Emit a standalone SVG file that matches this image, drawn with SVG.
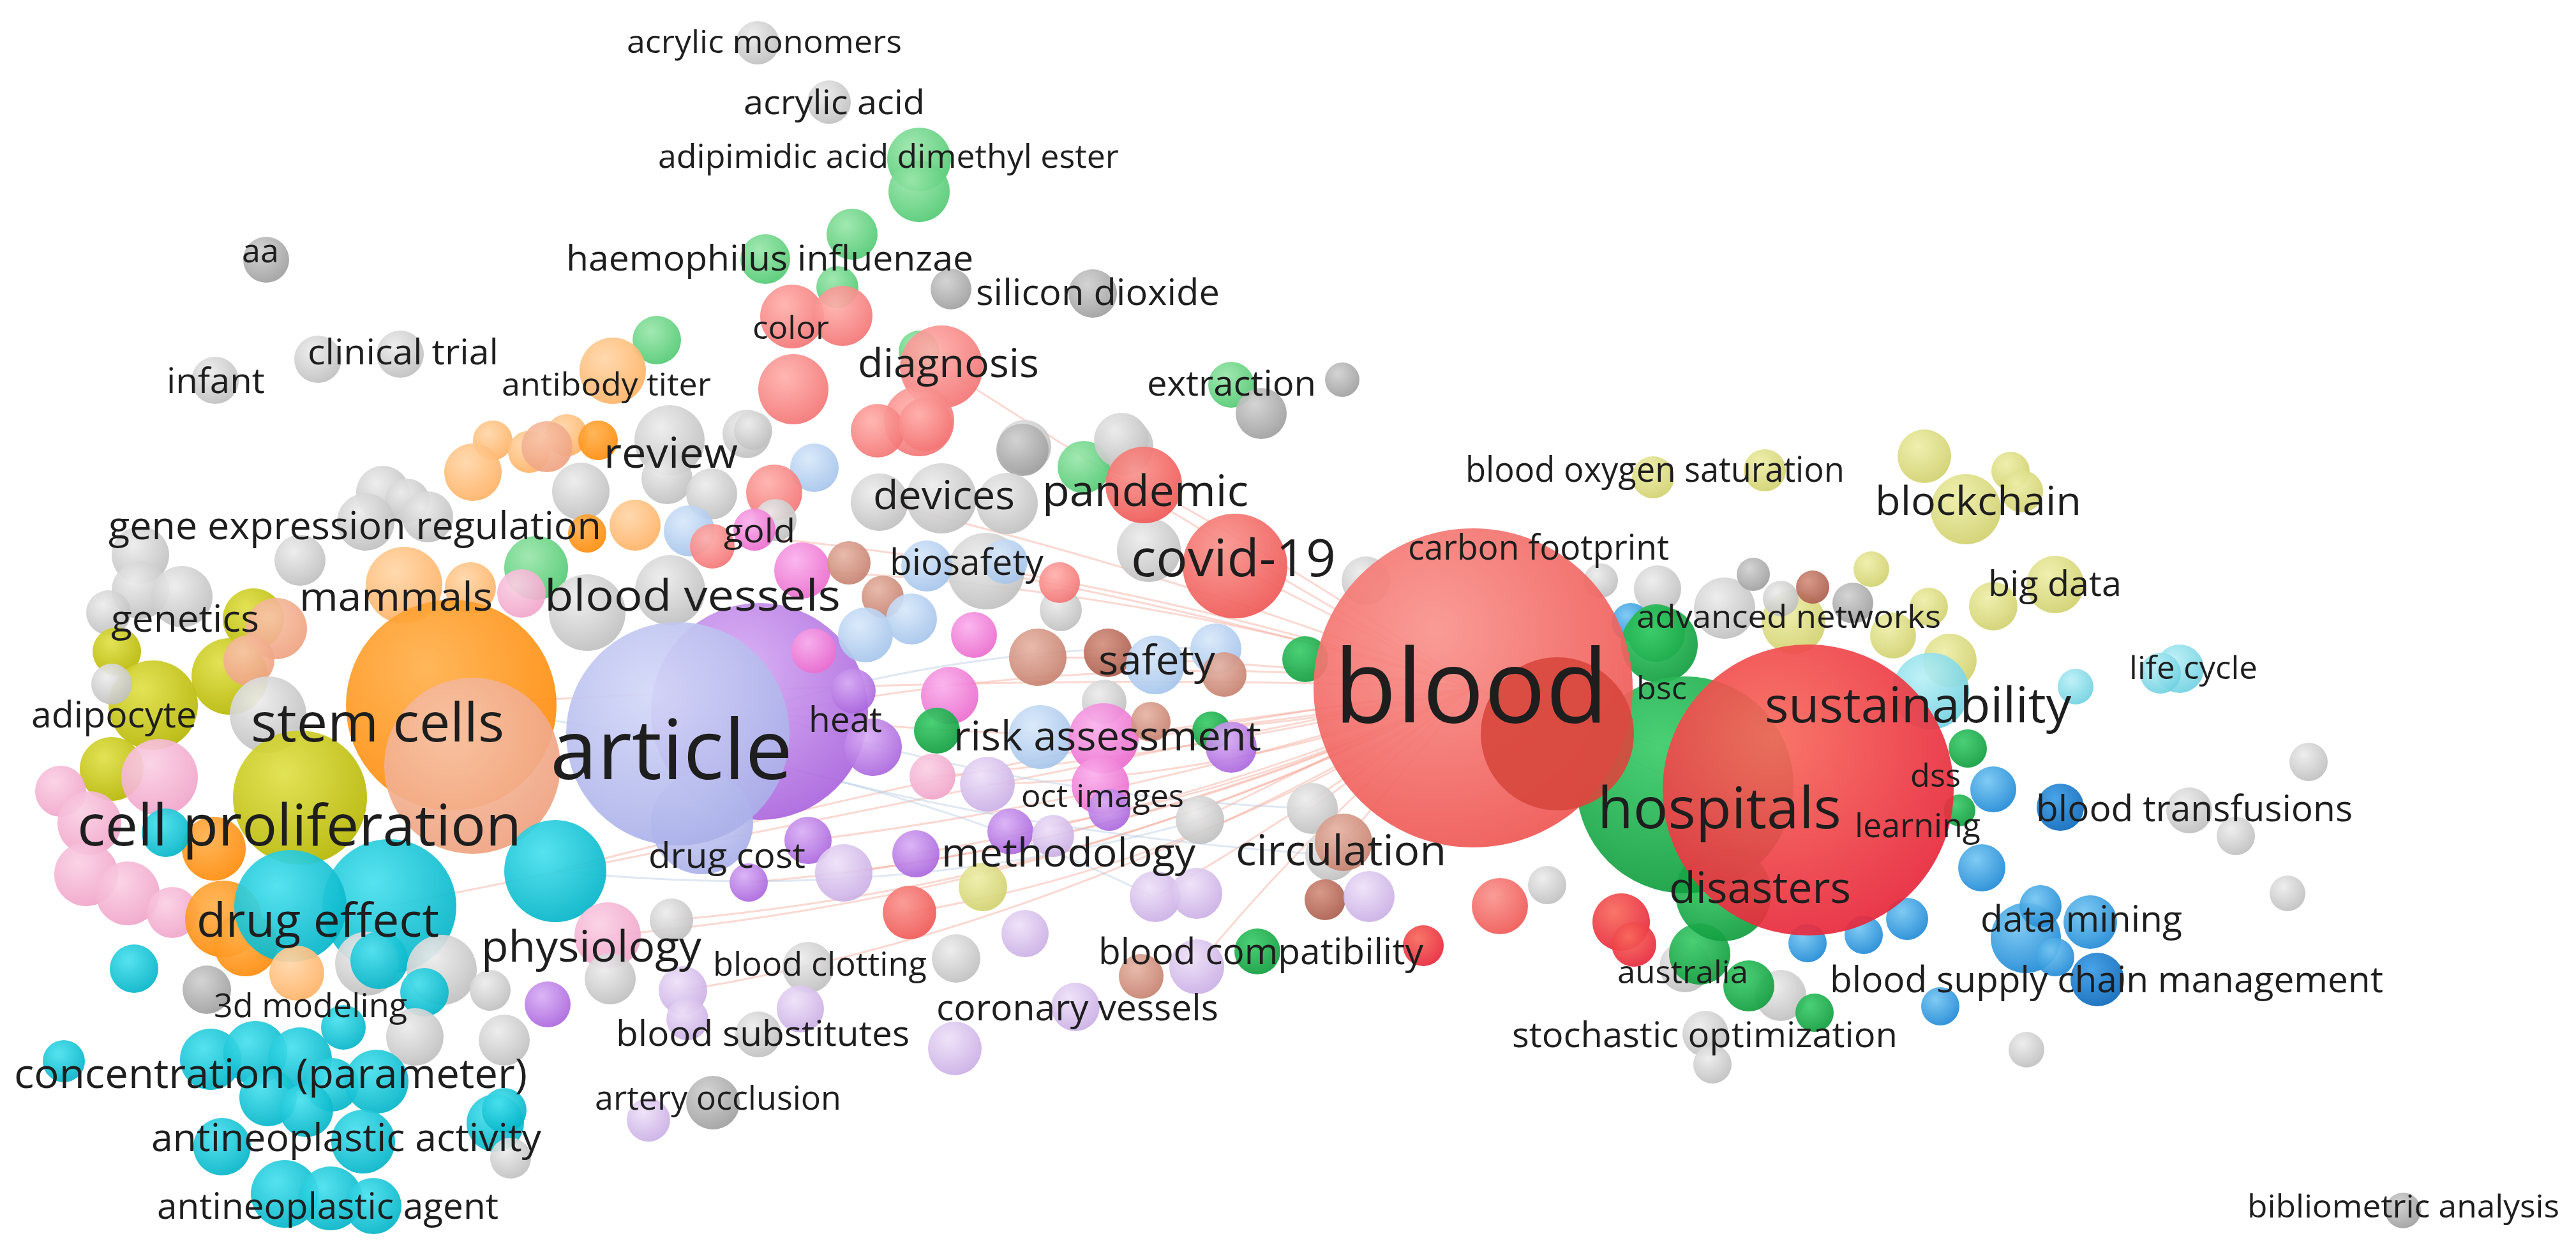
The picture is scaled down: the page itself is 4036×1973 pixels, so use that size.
<svg xmlns="http://www.w3.org/2000/svg" width="4036" height="1973" viewBox="0 0 4036 1973">
<defs>
<radialGradient id="gR" cx="38%" cy="32%" r="75%"><stop offset="0" stop-color="#f9948e"/><stop offset="1" stop-color="#ee5552"/></radialGradient>
<radialGradient id="gR2" cx="38%" cy="32%" r="75%"><stop offset="0" stop-color="#f86a5c"/><stop offset="1" stop-color="#e6243a"/></radialGradient>
<radialGradient id="gRS" cx="38%" cy="32%" r="75%"><stop offset="0" stop-color="#ffb0ac"/><stop offset="1" stop-color="#f27272"/></radialGradient>
<radialGradient id="gG" cx="38%" cy="32%" r="75%"><stop offset="0" stop-color="#3ccc6a"/><stop offset="1" stop-color="#0e9a3c"/></radialGradient>
<radialGradient id="gLG" cx="38%" cy="32%" r="75%"><stop offset="0" stop-color="#9ae6aa"/><stop offset="1" stop-color="#4ec870"/></radialGradient>
<radialGradient id="gB" cx="38%" cy="32%" r="75%"><stop offset="0" stop-color="#74c6f2"/><stop offset="1" stop-color="#1b86d4"/></radialGradient>
<radialGradient id="gDB" cx="38%" cy="32%" r="75%"><stop offset="0" stop-color="#3a9ce6"/><stop offset="1" stop-color="#0a66b8"/></radialGradient>
<radialGradient id="gO" cx="38%" cy="32%" r="75%"><stop offset="0" stop-color="#eeeea8"/><stop offset="1" stop-color="#cfcf6c"/></radialGradient>
<radialGradient id="gY" cx="38%" cy="32%" r="75%"><stop offset="0" stop-color="#e0e048"/><stop offset="1" stop-color="#b4b400"/></radialGradient>
<radialGradient id="gP" cx="38%" cy="32%" r="75%"><stop offset="0" stop-color="#d8aef4"/><stop offset="1" stop-color="#a862dc"/></radialGradient>
<radialGradient id="gLAV" cx="38%" cy="32%" r="75%"><stop offset="0" stop-color="#d4d8f8"/><stop offset="1" stop-color="#a8aee8"/></radialGradient>
<radialGradient id="gLL" cx="38%" cy="32%" r="75%"><stop offset="0" stop-color="#eee0f8"/><stop offset="1" stop-color="#c8ace4"/></radialGradient>
<radialGradient id="gT" cx="38%" cy="32%" r="75%"><stop offset="0" stop-color="#48e0ee"/><stop offset="1" stop-color="#00b2c6"/></radialGradient>
<radialGradient id="gLC" cx="38%" cy="32%" r="75%"><stop offset="0" stop-color="#baf0f6"/><stop offset="1" stop-color="#6ccfe0"/></radialGradient>
<radialGradient id="gOR" cx="38%" cy="32%" r="75%"><stop offset="0" stop-color="#ffb04c"/><stop offset="1" stop-color="#ff8a08"/></radialGradient>
<radialGradient id="gPE" cx="38%" cy="32%" r="75%"><stop offset="0" stop-color="#ffd6a8"/><stop offset="1" stop-color="#ffb062"/></radialGradient>
<radialGradient id="gSA" cx="38%" cy="32%" r="75%"><stop offset="0" stop-color="#f8c4a8"/><stop offset="1" stop-color="#eea07e"/></radialGradient>
<radialGradient id="gBR" cx="38%" cy="32%" r="75%"><stop offset="0" stop-color="#e6b4a4"/><stop offset="1" stop-color="#c47e6c"/></radialGradient>
<radialGradient id="gDBR" cx="38%" cy="32%" r="75%"><stop offset="0" stop-color="#d4907e"/><stop offset="1" stop-color="#a85a4a"/></radialGradient>
<radialGradient id="gPK" cx="38%" cy="32%" r="75%"><stop offset="0" stop-color="#fab0ec"/><stop offset="1" stop-color="#ea68cc"/></radialGradient>
<radialGradient id="gLP" cx="38%" cy="32%" r="75%"><stop offset="0" stop-color="#fad0e4"/><stop offset="1" stop-color="#f0a2c8"/></radialGradient>
<radialGradient id="gLB" cx="38%" cy="32%" r="75%"><stop offset="0" stop-color="#d8e8fa"/><stop offset="1" stop-color="#a2c2ea"/></radialGradient>
<radialGradient id="gGY" cx="38%" cy="32%" r="75%"><stop offset="0" stop-color="#ececec"/><stop offset="1" stop-color="#bdbdbd"/></radialGradient>
<radialGradient id="gDG" cx="38%" cy="32%" r="75%"><stop offset="0" stop-color="#d0d0d0"/><stop offset="1" stop-color="#9c9c9c"/></radialGradient>
<style>
circle{fill-opacity:.92}
.r{fill:url(#gR)}.r2{fill:url(#gR2)}.rs{fill:url(#gRS)}.g{fill:url(#gG)}.lg{fill:url(#gLG)}
.b{fill:url(#gB)}.db{fill:url(#gDB)}.o{fill:url(#gO)}.y{fill:url(#gY)}.p{fill:url(#gP)}
.lav{fill:url(#gLAV)}.ll{fill:url(#gLL)}.t{fill:url(#gT)}.lc{fill:url(#gLC)}.or{fill:url(#gOR)}
.pe{fill:url(#gPE)}.sa{fill:url(#gSA)}.br{fill:url(#gBR)}.dbr{fill:url(#gDBR)}.pk{fill:url(#gPK)}
.lp{fill:url(#gLP)}.lb{fill:url(#gLB)}.gy{fill:url(#gGY)}.dg{fill:url(#gDG)}
.big{fill-opacity:.93}
.e{fill:none;stroke:#f4a898;stroke-opacity:.45;stroke-width:3}
.e2{fill:none;stroke:#b8cce4;stroke-opacity:.45;stroke-width:3}
text{font-family:"Open Sans","Liberation Sans",sans-serif;fill:#1e1e1e}
</style>
</defs>
<rect width="4036" height="1973" fill="#ffffff"/>

<g id="connectors">
<path class="e" d="M2308 1078 Q1700 1000 1062 1150"/>
<path class="e" d="M2308 1078 Q1600 1050 707 1105"/>
<path class="e" d="M2308 1078 Q1700 1150 870 1365"/>
<path class="e" d="M2308 1078 Q1800 1200 1190 1115"/>
<path class="e" d="M2308 1078 Q1900 850 1475 575"/>
<path class="e" d="M2308 1078 Q2050 900 1792 760"/>
<path class="e" d="M2308 1078 L1935 887"/>
<path class="e" d="M2308 1078 Q1850 900 1378 787"/>
<path class="e" d="M2308 1078 Q1900 960 1545 895"/>
<path class="e" d="M2308 1078 Q1950 1030 1626 1030"/>
<path class="e" d="M2308 1078 Q2000 1120 1729 1157"/>
<path class="e" d="M2308 1078 Q1950 1150 1630 1155"/>
<path class="e" d="M2308 1078 Q1900 1260 1435 1338"/>
<path class="e" d="M2308 1078 Q1950 1250 1583 1303"/>
<path class="e" d="M2308 1078 Q1850 1300 1322 1368"/>
<path class="e" d="M2308 1078 Q1800 1330 1173 1383"/>
<path class="e" d="M2308 1078 Q1750 1380 1052 1442"/>
<path class="e" d="M2308 1078 L2105 1320"/>
<path class="e" d="M2308 1078 Q2050 1300 1875 1515"/>
<path class="e" d="M2308 1078 Q2000 1300 1810 1405"/>
<path class="e" d="M2308 1078 Q1900 1350 1425 1430"/>
<path class="e" d="M2308 1078 Q1800 1250 1266 1317"/>
<path class="e" d="M2308 1078 Q1800 920 1257 894"/>
<path class="e" d="M2308 1078 Q1700 880 1080 832"/>
<path class="e" d="M2308 1078 L2056 1267"/>
<path class="e" d="M2308 1078 Q2050 1200 1880 1285"/>
<path class="e" d="M2308 1078 Q1900 1180 1461 1217"/>
<path class="e" d="M2308 1078 Q1950 1220 1547 1229"/>
<path class="e" d="M2308 1078 Q1700 1400 952 1466"/>
<path class="e" d="M2308 1078 Q1700 1450 1070 1552"/>
<path class="e" d="M2308 1078 Q1700 1200 610 1420"/>
<path class="e" d="M2308 1078 L2833 1238"/>
<path class="e" d="M2308 1078 L2640 1230"/>
<path class="e2" d="M1062 1150 Q1500 1300 2085 1340"/>
<path class="e2" d="M1062 1150 Q1500 1000 1905 1017"/>
<path class="e2" d="M870 1365 Q1400 1420 1880 1285"/>
<path class="e2" d="M1190 1115 Q1600 1250 2056 1267"/>
<path class="e2" d="M707 1105 Q1400 1200 1806 1405"/>
</g>

<g id="nodes">
<g id="cluster-top">
<circle class="gy" cx="1187" cy="67" r="34"/>
<circle class="gy" cx="1299" cy="160" r="34"/>
<circle class="lg" cx="1440" cy="250" r="50"/>
<circle class="lg" cx="1440" cy="300" r="48"/>
<circle class="lg" cx="1335" cy="367" r="40"/>
<circle class="lg" cx="1199" cy="406" r="39"/>
<circle class="lg" cx="1312" cy="450" r="33"/>
<circle class="dg" cx="417" cy="407" r="36"/>
<circle class="dg" cx="1490" cy="453" r="32"/>
<circle class="dg" cx="1712" cy="460" r="38"/>
<circle class="rs" cx="1241" cy="496" r="50"/>
<circle class="rs" cx="1320" cy="495" r="47"/>
<circle class="lg" cx="1029" cy="533" r="38"/>
<circle class="pe" cx="960" cy="581" r="52"/>
<circle class="gy" cx="498" cy="563" r="37"/>
<circle class="gy" cx="627" cy="555" r="37"/>
<circle class="gy" cx="337" cy="596" r="37"/>
<circle class="lg" cx="1440" cy="550" r="32"/>
<circle class="rs" cx="1475" cy="575" r="65"/>
<circle class="rs" cx="1243" cy="610" r="55"/>
<circle class="rs" cx="1440" cy="660" r="55"/>
<circle class="lg" cx="1929" cy="603" r="36"/>
<circle class="dg" cx="2103" cy="595" r="27"/>
<circle class="dg" cx="1976" cy="648" r="40"/>
<circle class="gy" cx="1605" cy="700" r="42"/>
<circle class="gy" cx="1762" cy="700" r="45"/>
</g>
<g id="cluster-left">
<circle class="pe" cx="772" cy="690" r="31"/>
<circle class="pe" cx="829" cy="708" r="33"/>
<circle class="pe" cx="888" cy="682" r="33"/>
<circle class="or" cx="937" cy="690" r="31"/>
<circle class="pe" cx="741" cy="740" r="45"/>
<circle class="sa" cx="857" cy="700" r="40"/>
<circle class="gy" cx="1049" cy="690" r="55"/>
<circle class="gy" cx="1170" cy="680" r="38"/>
<circle class="gy" cx="910" cy="770" r="45"/>
<circle class="gy" cx="1045" cy="750" r="40"/>
<circle class="gy" cx="1115" cy="774" r="40"/>
<circle class="gy" cx="600" cy="772" r="42"/>
<circle class="gy" cx="638" cy="785" r="35"/>
<circle class="gy" cx="573" cy="818" r="45"/>
<circle class="gy" cx="670" cy="810" r="40"/>
<circle class="or" cx="920" cy="836" r="30"/>
<circle class="pe" cx="995" cy="823" r="40"/>
<circle class="lb" cx="1080" cy="832" r="40"/>
<circle class="rs" cx="1116" cy="856" r="35"/>
<circle class="gy" cx="220" cy="870" r="45"/>
<circle class="gy" cx="470" cy="878" r="40"/>
<circle class="gy" cx="220" cy="925" r="45"/>
<circle class="gy" cx="285" cy="935" r="48"/>
<circle class="gy" cx="170" cy="960" r="35"/>
<circle class="lg" cx="840" cy="890" r="50"/>
<circle class="pe" cx="633" cy="917" r="60"/>
<circle class="pe" cx="737" cy="921" r="40"/>
<circle class="gy" cx="1050" cy="925" r="55"/>
<circle class="lp" cx="817" cy="930" r="38"/>
<circle class="gy" cx="920" cy="960" r="60"/>
<circle class="y" cx="397" cy="970" r="48"/>
<circle class="y" cx="183" cy="1021" r="38"/>
<circle class="sa" cx="433" cy="985" r="48"/>
<circle class="y" cx="360" cy="1060" r="60"/>
<circle class="sa" cx="390" cy="1035" r="40"/>
<circle class="y" cx="240" cy="1105" r="70"/>
<circle class="gy" cx="175" cy="1072" r="32"/>
<circle class="y" cx="175" cy="1205" r="50"/>
<circle class="lp" cx="250" cy="1218" r="60"/>
<circle class="lp" cx="95" cy="1240" r="40"/>
<circle class="lp" cx="140" cy="1290" r="50"/>
<circle class="lp" cx="135" cy="1370" r="50"/>
<circle class="lp" cx="200" cy="1400" r="50"/>
<circle class="lp" cx="270" cy="1430" r="40"/>
<circle class="or" cx="335" cy="1330" r="50"/>
<circle class="t" cx="260" cy="1305" r="38"/>
<circle class="gy" cx="420" cy="1120" r="60"/>
<circle class="y" cx="470" cy="1250" r="105"/>
<circle class="or" cx="707" cy="1105" r="165"/>
<circle class="sa" cx="740" cy="1200" r="138"/>
<circle class="or" cx="350" cy="1440" r="60"/>
<circle class="or" cx="385" cy="1480" r="50"/>
<circle class="t" cx="610" cy="1420" r="105"/>
<circle class="t" cx="455" cy="1420" r="88"/>
<circle class="pe" cx="465" cy="1525" r="43"/>
<circle class="gy" cx="575" cy="1510" r="50"/>
<circle class="t" cx="594" cy="1505" r="45"/>
<circle class="gy" cx="692" cy="1520" r="55"/>
<circle class="t" cx="665" cy="1555" r="38"/>
<circle class="gy" cx="768" cy="1552" r="32"/>
<circle class="gy" cx="650" cy="1625" r="45"/>
<circle class="t" cx="538" cy="1610" r="35"/>
<circle class="dg" cx="324" cy="1551" r="38"/>
<circle class="t" cx="210" cy="1518" r="38"/>
<circle class="t" cx="100" cy="1663" r="33"/>
<circle class="t" cx="330" cy="1660" r="48"/>
<circle class="t" cx="400" cy="1650" r="50"/>
<circle class="t" cx="470" cy="1660" r="50"/>
<circle class="t" cx="520" cy="1700" r="42"/>
<circle class="t" cx="420" cy="1720" r="45"/>
<circle class="t" cx="480" cy="1740" r="42"/>
<circle class="t" cx="590" cy="1695" r="50"/>
<circle class="t" cx="776" cy="1760" r="45"/>
<circle class="gy" cx="800" cy="1815" r="32"/>
<circle class="t" cx="348" cy="1797" r="45"/>
<circle class="t" cx="569" cy="1789" r="50"/>
<circle class="t" cx="446" cy="1871" r="53"/>
<circle class="t" cx="518" cy="1878" r="50"/>
<circle class="t" cx="585" cy="1890" r="44"/>
<circle class="t" cx="790" cy="1740" r="35"/>
<circle class="gy" cx="790" cy="1630" r="40"/>
<circle class="t" cx="870" cy="1365" r="80"/>
</g>
<g id="cluster-center">
<circle class="p" cx="1190" cy="1115" r="170"/>
<circle class="lav" cx="1100" cy="1290" r="80"/>
<circle class="lav" cx="1062" cy="1150" r="175"/>
<circle class="gy" cx="1180" cy="675" r="30"/>
<circle class="rs" cx="1375" cy="675" r="42"/>
<circle class="rs" cx="1450" cy="665" r="42"/>
<circle class="dg" cx="1602" cy="705" r="41"/>
<circle class="lg" cx="1698" cy="732" r="41"/>
<circle class="gy" cx="1757" cy="690" r="43"/>
<circle class="lb" cx="1276" cy="733" r="38"/>
<circle class="rs" cx="1213" cy="772" r="44"/>
<circle class="gy" cx="1378" cy="787" r="45"/>
<circle class="gy" cx="1475" cy="781" r="55"/>
<circle class="gy" cx="1578" cy="789" r="48"/>
<circle class="gy" cx="1215" cy="815" r="33"/>
<circle class="pk" cx="1182" cy="830" r="33"/>
<circle class="pk" cx="1257" cy="894" r="44"/>
<circle class="br" cx="1330" cy="882" r="34"/>
<circle class="br" cx="1383" cy="935" r="33"/>
<circle class="gy" cx="1545" cy="895" r="60"/>
<circle class="lb" cx="1452" cy="887" r="40"/>
<circle class="lb" cx="1575" cy="880" r="35"/>
<circle class="lb" cx="1356" cy="995" r="43"/>
<circle class="lb" cx="1428" cy="970" r="40"/>
<circle class="gy" cx="1800" cy="862" r="50"/>
<circle class="gy" cx="1662" cy="956" r="33"/>
<circle class="rs" cx="1660" cy="913" r="32"/>
<circle class="pk" cx="1526" cy="995" r="36"/>
<circle class="pk" cx="1275" cy="1020" r="35"/>
<circle class="p" cx="1337" cy="1083" r="35"/>
<circle class="p" cx="1368" cy="1171" r="45"/>
<circle class="br" cx="1626" cy="1030" r="45"/>
<circle class="dbr" cx="1736" cy="1023" r="38"/>
<circle class="lb" cx="1810" cy="1042" r="46"/>
<circle class="gy" cx="1730" cy="1100" r="35"/>
<circle class="pk" cx="1488" cy="1090" r="45"/>
<circle class="g" cx="1468" cy="1145" r="36"/>
<circle class="lb" cx="1630" cy="1155" r="50"/>
<circle class="pk" cx="1729" cy="1157" r="55"/>
<circle class="br" cx="1803" cy="1131" r="31"/>
<circle class="g" cx="1898" cy="1145" r="30"/>
<circle class="p" cx="1929" cy="1171" r="40"/>
<circle class="lp" cx="1461" cy="1217" r="36"/>
<circle class="ll" cx="1547" cy="1229" r="43"/>
<circle class="pk" cx="1724" cy="1231" r="45"/>
<circle class="p" cx="1738" cy="1269" r="33"/>
<circle class="gy" cx="1880" cy="1285" r="38"/>
<circle class="p" cx="1583" cy="1303" r="36"/>
<circle class="ll" cx="1650" cy="1310" r="33"/>
<circle class="p" cx="1435" cy="1338" r="37"/>
<circle class="p" cx="1266" cy="1317" r="37"/>
<circle class="ll" cx="1322" cy="1368" r="45"/>
<circle class="o" cx="1540" cy="1390" r="38"/>
<circle class="r" cx="1425" cy="1430" r="42"/>
<circle class="p" cx="1173" cy="1383" r="30"/>
<circle class="gy" cx="1052" cy="1442" r="34"/>
<circle class="lp" cx="952" cy="1466" r="52"/>
<circle class="gy" cx="956" cy="1534" r="40"/>
<circle class="p" cx="858" cy="1574" r="36"/>
<circle class="ll" cx="1070" cy="1552" r="38"/>
<circle class="ll" cx="1077" cy="1597" r="33"/>
<circle class="gy" cx="1266" cy="1516" r="40"/>
<circle class="ll" cx="1254" cy="1581" r="37"/>
<circle class="gy" cx="1188" cy="1621" r="36"/>
<circle class="ll" cx="1016" cy="1755" r="34"/>
<circle class="dg" cx="1117" cy="1728" r="42"/>
<circle class="r" cx="1792" cy="760" r="60"/>
<circle class="r" cx="1935" cy="887" r="82"/>
<circle class="gy" cx="2140" cy="910" r="38"/>
<circle class="g" cx="2045" cy="1033" r="36"/>
<circle class="lb" cx="1905" cy="1017" r="40"/>
<circle class="br" cx="1918" cy="1057" r="35"/>
<circle class="gy" cx="2056" cy="1267" r="40"/>
<circle class="gy" cx="2085" cy="1340" r="40"/>
<circle class="br" cx="2105" cy="1320" r="45"/>
<circle class="dbr" cx="2076" cy="1410" r="32"/>
<circle class="ll" cx="2145" cy="1405" r="40"/>
<circle class="ll" cx="1810" cy="1405" r="40"/>
<circle class="ll" cx="1875" cy="1400" r="40"/>
<circle class="g" cx="1970" cy="1491" r="36"/>
<circle class="br" cx="1788" cy="1530" r="35"/>
<circle class="ll" cx="1875" cy="1515" r="43"/>
<circle class="ll" cx="1685" cy="1578" r="38"/>
<circle class="ll" cx="1496" cy="1643" r="42"/>
<circle class="ll" cx="1606" cy="1463" r="37"/>
<circle class="gy" cx="1498" cy="1502" r="38"/>
<circle class="r2" cx="2230" cy="1482" r="32"/>
<circle class="r" cx="2350" cy="1420" r="44"/>
<circle class="gy" cx="2424" cy="1387" r="30"/>
<circle class="r2" cx="2540" cy="1445" r="45"/>
<circle class="r2" cx="2560" cy="1480" r="35"/>
</g>
<g id="cluster-right">
<circle class="o" cx="2590" cy="748" r="33"/>
<circle class="o" cx="2765" cy="737" r="33"/>
<circle class="o" cx="3015" cy="715" r="42"/>
<circle class="o" cx="3150" cy="738" r="30"/>
<circle class="o" cx="3080" cy="798" r="55"/>
<circle class="o" cx="3168" cy="770" r="33"/>
<circle class="o" cx="2932" cy="892" r="28"/>
<circle class="o" cx="3220" cy="916" r="45"/>
<circle class="o" cx="3123" cy="950" r="38"/>
<circle class="o" cx="3022" cy="951" r="30"/>
<circle class="o" cx="2966" cy="996" r="36"/>
<circle class="o" cx="3055" cy="1035" r="42"/>
<circle class="o" cx="2810" cy="975" r="50"/>
<circle class="gy" cx="2508" cy="910" r="27"/>
<circle class="gy" cx="2597" cy="923" r="37"/>
<circle class="gy" cx="2702" cy="953" r="48"/>
<circle class="dg" cx="2747" cy="900" r="26"/>
<circle class="gy" cx="2790" cy="938" r="28"/>
<circle class="dg" cx="2903" cy="945" r="32"/>
<circle class="dbr" cx="2840" cy="920" r="26"/>
<circle class="b" cx="2555" cy="975" r="30"/>
<circle class="lc" cx="3025" cy="1083" r="60"/>
<circle class="lc" cx="3252" cy="1076" r="28"/>
<circle class="lc" cx="3415" cy="1048" r="38"/>
<circle class="lc" cx="3385" cy="1055" r="32"/>
<circle class="g" cx="3083" cy="1173" r="30"/>
<circle class="g" cx="3070" cy="1270" r="25"/>
<circle class="b" cx="3123" cy="1237" r="36"/>
<circle class="db" cx="3228" cy="1265" r="37"/>
<circle class="b" cx="3105" cy="1360" r="37"/>
<circle class="b" cx="2988" cy="1440" r="33"/>
<circle class="b" cx="2920" cy="1465" r="30"/>
<circle class="b" cx="2832" cy="1478" r="30"/>
<circle class="b" cx="3174" cy="1470" r="55"/>
<circle class="b" cx="3197" cy="1420" r="33"/>
<circle class="b" cx="3275" cy="1445" r="42"/>
<circle class="b" cx="3220" cy="1500" r="30"/>
<circle class="db" cx="3286" cy="1535" r="42"/>
<circle class="b" cx="3040" cy="1577" r="30"/>
<circle class="gy" cx="3617" cy="1194" r="30"/>
<circle class="gy" cx="3584" cy="1400" r="28"/>
<circle class="gy" cx="3430" cy="1270" r="36"/>
<circle class="gy" cx="3503" cy="1310" r="30"/>
<circle class="gy" cx="3175" cy="1645" r="28"/>
<circle class="dg" cx="3765" cy="1897" r="28"/>
<circle class="gy" cx="2790" cy="1560" r="40"/>
<circle class="g" cx="2843" cy="1587" r="30"/>
<circle class="gy" cx="2640" cy="1515" r="40"/>
<circle class="g" cx="2663" cy="1495" r="48"/>
<circle class="g" cx="2740" cy="1545" r="40"/>
<circle class="gy" cx="2672" cy="1620" r="36"/>
<circle class="gy" cx="2683" cy="1668" r="30"/>
<circle class="g" cx="2595" cy="992" r="45"/>
<circle class="g" cx="2600" cy="1010" r="60"/>
<circle class="g" cx="2700" cy="1400" r="75"/>
<circle class="g" cx="2640" cy="1230" r="170"/>
</g>
<g id="node-blood"><circle class="r big" cx="2308" cy="1078" r="250"/><circle cx="2440" cy="1150" r="120" fill="#d8483e" fill-opacity=".12"/></g>
<g id="node-hospitals"><circle class="r2" cx="2833" cy="1238" r="228" fill-opacity=".86"/></g>
</g>

<g id="labels">
<text id="l-acrylic-monomers" x="982" y="83" font-size="50" textLength="431" lengthAdjust="spacingAndGlyphs">acrylic monomers</text>
<text id="l-acrylic-acid" x="1165" y="179" font-size="53" textLength="284" lengthAdjust="spacingAndGlyphs">acrylic acid</text>
<text id="l-adipimidic" x="1031" y="263" font-size="52" textLength="722" lengthAdjust="spacingAndGlyphs">adipimidic acid dimethyl ester</text>
<text id="l-aa" x="379" y="411" font-size="52" textLength="58" lengthAdjust="spacingAndGlyphs">aa</text>
<text id="l-haemophilus" x="887" y="424" font-size="55" textLength="638" lengthAdjust="spacingAndGlyphs">haemophilus influenzae</text>
<text id="l-silicon" x="1529" y="478" font-size="56" textLength="382" lengthAdjust="spacingAndGlyphs">silicon dioxide</text>
<text id="l-color" x="1179" y="531" font-size="50" textLength="120" lengthAdjust="spacingAndGlyphs">color</text>
<text id="l-clinical" x="482" y="571" font-size="54" textLength="299" lengthAdjust="spacingAndGlyphs">clinical trial</text>
<text id="l-infant" x="261" y="616" font-size="54" textLength="154" lengthAdjust="spacingAndGlyphs">infant</text>
<text id="l-antibody" x="786" y="620" font-size="50" textLength="328" lengthAdjust="spacingAndGlyphs">antibody titer</text>
<text id="l-diagnosis" x="1344" y="591" font-size="63" textLength="284" lengthAdjust="spacingAndGlyphs">diagnosis</text>
<text id="l-extraction" x="1797" y="620" font-size="55" textLength="265" lengthAdjust="spacingAndGlyphs">extraction</text>
<text id="l-review" x="946" y="733" font-size="66" textLength="210" lengthAdjust="spacingAndGlyphs">review</text>
<text id="l-devices" x="1368" y="798" font-size="63" textLength="222" lengthAdjust="spacingAndGlyphs">devices</text>
<text id="l-pandemic" x="1633" y="793" font-size="68" textLength="323" lengthAdjust="spacingAndGlyphs">pandemic</text>
<text id="l-bos" x="2296" y="755" font-size="54" textLength="594" lengthAdjust="spacingAndGlyphs">blood oxygen saturation</text>
<text id="l-blockchain" x="2938" y="807" font-size="63" textLength="323" lengthAdjust="spacingAndGlyphs">blockchain</text>
<text id="l-gene" x="170" y="845" font-size="60" textLength="772" lengthAdjust="spacingAndGlyphs">gene expression regulation</text>
<text id="l-gold" x="1134" y="850" font-size="52" textLength="112" lengthAdjust="spacingAndGlyphs">gold</text>
<text id="l-carbon" x="2206" y="877" font-size="54" textLength="409" lengthAdjust="spacingAndGlyphs">carbon footprint</text>
<text id="l-covid" x="1772" y="903" font-size="80" textLength="321" lengthAdjust="spacingAndGlyphs">covid-19</text>
<text id="l-mammals" x="469" y="957" font-size="63" textLength="303" lengthAdjust="spacingAndGlyphs">mammals</text>
<text id="l-blood-vessels" x="853" y="957" font-size="68" textLength="464" lengthAdjust="spacingAndGlyphs">blood vessels</text>
<text id="l-biosafety" x="1394" y="901" font-size="56" textLength="241" lengthAdjust="spacingAndGlyphs">biosafety</text>
<text id="l-bigdata" x="3115" y="934" font-size="55" textLength="209" lengthAdjust="spacingAndGlyphs">big data</text>
<text id="l-genetics" x="174" y="990" font-size="58" textLength="232" lengthAdjust="spacingAndGlyphs">genetics</text>
<text id="l-advanced" x="2564" y="984" font-size="50" textLength="477" lengthAdjust="spacingAndGlyphs">advanced networks</text>
<text id="l-safety" x="1721" y="1057" font-size="64" textLength="183" lengthAdjust="spacingAndGlyphs">safety</text>
<text id="l-blood" x="2090" y="1132" font-size="160" textLength="430" lengthAdjust="spacingAndGlyphs" fill="#111">blood</text>
<text id="l-lifecycle" x="3336" y="1064" font-size="50" textLength="201" lengthAdjust="spacingAndGlyphs">life cycle</text>
<text id="l-adipocyte" x="49" y="1140" font-size="56" textLength="259" lengthAdjust="spacingAndGlyphs">adipocyte</text>
<text id="l-stemcells" x="393" y="1162" font-size="84" textLength="397" lengthAdjust="spacingAndGlyphs" fill="#111">stem cells</text>
<text id="l-article" x="862" y="1221" font-size="130" textLength="380" lengthAdjust="spacingAndGlyphs" fill="#111">article</text>
<text id="l-heat" x="1267" y="1147" font-size="54" textLength="115" lengthAdjust="spacingAndGlyphs">heat</text>
<text id="l-bsc" x="2564" y="1096" font-size="50" textLength="79" lengthAdjust="spacingAndGlyphs">bsc</text>
<text id="l-sustainability" x="2765" y="1132" font-size="77" textLength="480" lengthAdjust="spacingAndGlyphs">sustainability</text>
<text id="l-risk" x="1494" y="1176" font-size="64" textLength="482" lengthAdjust="spacingAndGlyphs">risk assessment</text>
<text id="l-oct" x="1600" y="1265" font-size="50" textLength="255" lengthAdjust="spacingAndGlyphs">oct images</text>
<text id="l-hospitals" x="2503" y="1298" font-size="89" textLength="382" lengthAdjust="spacingAndGlyphs" fill="#111">hospitals</text>
<text id="l-dss" x="2993" y="1233" font-size="50" textLength="79" lengthAdjust="spacingAndGlyphs">dss</text>
<text id="l-learning" x="2906" y="1312" font-size="51" textLength="197" lengthAdjust="spacingAndGlyphs">learning</text>
<text id="l-transfusions" x="3190" y="1287" font-size="56" textLength="496" lengthAdjust="spacingAndGlyphs">blood transfusions</text>
<text id="l-cellprolif" x="121" y="1325" font-size="89" textLength="696" lengthAdjust="spacingAndGlyphs" fill="#111">cell proliferation</text>
<text id="l-drugcost" x="1016" y="1360" font-size="55" textLength="246" lengthAdjust="spacingAndGlyphs">drug cost</text>
<text id="l-methodology" x="1475" y="1358" font-size="63" textLength="398" lengthAdjust="spacingAndGlyphs">methodology</text>
<text id="l-circulation" x="1936" y="1356" font-size="66" textLength="330" lengthAdjust="spacingAndGlyphs">circulation</text>
<text id="l-disasters" x="2615" y="1415" font-size="67" textLength="285" lengthAdjust="spacingAndGlyphs">disasters</text>
<text id="l-drugeffect" x="308" y="1468" font-size="74" textLength="380" lengthAdjust="spacingAndGlyphs">drug effect</text>
<text id="l-physiology" x="754" y="1507" font-size="68" textLength="345" lengthAdjust="spacingAndGlyphs">physiology</text>
<text id="l-datamining" x="3103" y="1460" font-size="56" textLength="316" lengthAdjust="spacingAndGlyphs">data mining</text>
<text id="l-clotting" x="1117" y="1529" font-size="51" textLength="335" lengthAdjust="spacingAndGlyphs">blood clotting</text>
<text id="l-compat" x="1721" y="1511" font-size="56" textLength="509" lengthAdjust="spacingAndGlyphs">blood compatibility</text>
<text id="l-australia" x="2534" y="1541" font-size="50" textLength="205" lengthAdjust="spacingAndGlyphs">australia</text>
<text id="l-bscm" x="2867" y="1555" font-size="56" textLength="867" lengthAdjust="spacingAndGlyphs">blood supply chain management</text>
<text id="l-3d" x="335" y="1594" font-size="51" textLength="303" lengthAdjust="spacingAndGlyphs">3d modeling</text>
<text id="l-substitutes" x="965" y="1639" font-size="55" textLength="460" lengthAdjust="spacingAndGlyphs">blood substitutes</text>
<text id="l-coronary" x="1467" y="1599" font-size="56" textLength="442" lengthAdjust="spacingAndGlyphs">coronary vessels</text>
<text id="l-stochastic" x="2369" y="1641" font-size="55" textLength="604" lengthAdjust="spacingAndGlyphs">stochastic optimization</text>
<text id="l-concentration" x="22" y="1705" font-size="64" textLength="804" lengthAdjust="spacingAndGlyphs">concentration (parameter)</text>
<text id="l-artery" x="932" y="1739" font-size="51" textLength="386" lengthAdjust="spacingAndGlyphs">artery occlusion</text>
<text id="l-antiact" x="237" y="1804" font-size="60" textLength="611" lengthAdjust="spacingAndGlyphs">antineoplastic activity</text>
<text id="l-antiagent" x="246" y="1910" font-size="56" textLength="535" lengthAdjust="spacingAndGlyphs">antineoplastic agent</text>
<text id="l-biblio" x="3521" y="1908" font-size="50" textLength="489" lengthAdjust="spacingAndGlyphs">bibliometric analysis</text>
</g>
</svg>
